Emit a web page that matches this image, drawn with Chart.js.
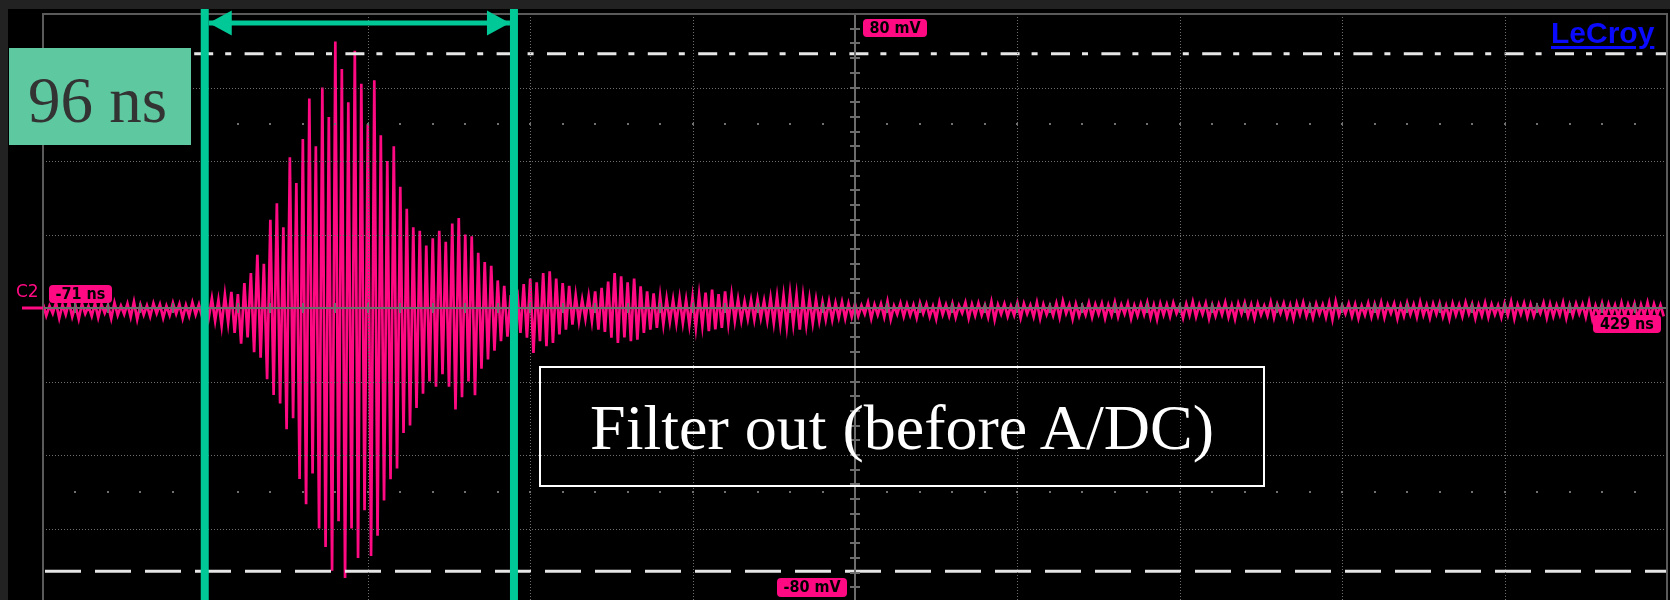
<!DOCTYPE html>
<html>
<head>
<meta charset="utf-8">
<title>Filter out (before A/DC)</title>
<script src="https://cdn.jsdelivr.net/npm/chart.js@4.4.0/dist/chart.umd.min.js"></script>
<style>
  html, body { margin: 0; padding: 0; background: #222; overflow: hidden; }
  #wrap { position: relative; width: 1670px; height: 600px; overflow: hidden; }
  #scope { position: absolute; left: 0; top: 0; }
  .lbl { position: absolute; white-space: nowrap; }
  .tag {
    position: absolute; background-color: #ff0a82; border-radius: 4px;
    font-family: "DejaVu Sans Condensed", "DejaVu Sans", sans-serif; font-size: 16px; font-weight: bold;
    line-height: 18px; text-align: center; color: #000000 !important;
  }
</style>
</head>
<body>
<div id="wrap">
  <canvas id="scope" width="1670" height="610"></canvas>

  <div class="lbl" style="left:9px;top:48px;width:182px;height:97px;background:#5ec9a0;"></div>
  <div class="lbl" id="spanText" style="left:28px;top:68px;font:65px 'Liberation Serif',serif;line-height:64px;color:#333;"></div>

  <div class="lbl" style="left:539px;top:366px;width:726px;height:121px;border:2px solid #fff;box-sizing:border-box;"></div>
  <div class="lbl" id="noteText" style="left:539px;top:396px;width:726px;text-align:center;font:64px 'Liberation Serif',serif;line-height:64px;color:#fff;"></div>

  <div class="lbl" style="left:1551px;top:17px;font:bold 30px 'Liberation Sans',Arial,sans-serif;line-height:32px;color:#0a0aff;text-decoration:underline;text-decoration-thickness:3px;text-underline-offset:3px;">LeCroy</div>

  <div class="lbl" id="chanText" style="left:16px;top:281px;font:17px 'DejaVu Sans',sans-serif;color:#ff0a82;"></div>
  <div class="tag" id="topTag" style="left:863px;top:19px;width:64px;color:#000;"></div>
  <div class="tag" id="botTag" style="left:777px;top:578px;width:70px;height:19px;color:#000;"></div>
  <div class="tag" id="leftTag" style="left:49px;top:285px;width:63px;color:#000;"></div>
  <div class="tag" id="rightTag" style="left:1593px;top:315px;width:68px;color:#000;"></div>
</div>

<script>
// time axis (ns) and voltage axis (mV) of the scope screen, 10 x 8 divisions
var timeTicksNs = [-71, -21, 29, 79, 129, 179, 229, 279, 329, 379, 429];
var voltTicksMv = [-80, -60, -40, -20, 0, 20, 40, 60, 80];

// the trace: one peak and one trough per 2 ns, samples 1 ns apart, starting at -71 ns
var sampleStartNs = -71;
var sampleStepNs = 1;
var peakMv = [
  // -71 .. -23 ns, baseline noise
  1.1, 0.6, 1.4, 0.9, 1.6, 0.7, 1.2, 0.5, 1.3, 1.0, 0.8, 1.5, 0.6, 1.2, 1.7, 0.9, 0.7, 1.3, 1.0, 0.6, 1.4, 1.1, 0.8, 1.5, 1.0,
  // -21 .. 177 ns, burst
  1.8, 2.6, 2.2, 3.6, 4.4, 3.8, 6.8, 9.5, 14.5, 12,
  24, 28.5, 22, 41, 34, 46, 57, 44, 60, 52,
  72.5, 65, 56, 70, 61, 50, 62, 47, 40, 44,
  33, 27, 22, 21, 17, 19, 21, 18, 23, 24.5,
  20, 19.5, 15, 12.5, 11.5, 7.5, 6, 3.5, 5, 6.5,
  8, 7, 9.5, 10, 8, 6.8, 6, 3.5, 2.3, 3.2,
  4.5, 5.5, 7.2, 9.5, 8.6, 7, 8, 5.9, 4.5, 4,
  3.2, 2.5, 2.3, 2.7, 2.2, 3, 3.6, 4.2, 5, 3.8,
  4.5, 3.6, 2.4, 1.8, 2.2, 2.4, 2, 2.8, 3.2, 3.4,
  4, 3.6, 3.2, 2.6, 2.3, 1.6, 1.8, 1.4, 1.6, 1.2,
  // 179 .. 427 ns, baseline noise
  1.2, 0.7, 1.5, 0.9, 1.1, 1.8, 0.6, 1.3, 1.0, 0.8,
  1.4, 1.1, 0.5, 1.6, 0.9, 1.2, 0.7, 1.5, 1.0, 1.3,
  0.8, 1.7, 0.9, 1.1, 0.6, 1.4, 1.2, 0.8, 1.5, 1.0,
  0.7, 1.3, 1.9, 0.9, 1.1, 0.6, 1.4, 1.0, 1.2, 0.8,
  1.6, 0.9, 1.3, 0.7, 1.1, 1.5, 0.8, 1.2, 1.0, 1.4,
  0.6, 1.1, 1.7, 0.9, 1.3, 0.8, 1.0, 1.5, 0.7, 1.2,
  1.4, 0.9, 1.1, 0.6, 1.6, 1.0, 1.3, 0.8, 1.2, 1.5,
  0.7, 1.1, 0.9, 1.4, 1.8, 0.8, 1.2, 1.0, 0.6, 1.3,
  1.1, 1.5, 0.9, 1.2, 0.7, 1.4, 1.0, 1.6, 0.8, 1.1,
  1.3, 0.6, 1.2, 0.9, 1.5, 1.1, 0.8, 1.4, 1.0, 0.7,
  1.2, 1.7, 0.9, 1.3, 1.0, 0.6, 1.4, 1.1, 0.8, 1.5,
  0.9, 1.2, 1.0, 1.6, 0.7, 1.3, 1.1, 0.8, 1.4, 1.0,
  1.2, 0.9, 1.5, 1.1, 0.8
];
var troughMv = [
  -2.1, -1.5, -2.8, -1.8, -2.4, -3.0, -1.6, -2.2, -2.6, -1.4, -2.9, -2.0, -1.7, -2.5, -3.1, -1.9, -2.3, -1.5, -2.7, -2.0, -1.6, -2.8, -2.2, -1.8, -2.5,
  -2.8, -3.5, -4.8, -4, -6.8, -9.7, -8, -12, -13.5, -19.4,
  -23.7, -26, -33, -30, -46.5, -53.4, -45, -60, -65, -71.5,
  -58, -73.5, -60, -68, -55, -67.5, -62, -52.4, -46.6, -43.7,
  -34, -32, -27.2, -23.3, -20, -21.4, -18, -21.4, -27.6, -24.3,
  -20, -23.7, -16.5, -14, -11.6, -9, -7.8, -5, -6.8, -8.1,
  -12.2, -9, -10.4, -9.5, -7.2, -5.9, -4.5, -3.6, -3, -3.6,
  -5.9, -6.5, -8.1, -9.5, -8, -9, -8.6, -6.8, -5.9, -5.4,
  -4.5, -3.8, -4.1, -4.1, -4.6, -5.4, -4.8, -6.3, -5.8, -5.4,
  -4.2, -3.6, -3.4, -3, -3.2, -2.8, -3.5, -4.1, -4.5, -5,
  -4.4, -5.9, -4.6, -4.1, -3.6, -3.2, -3.2, -2.6, -2.9, -2.4,
  -2.2, -1.6, -2.9, -1.9, -2.5, -3.1, -1.7, -2.3, -2.0, -2.7,
  -1.5, -2.4, -3.0, -1.8, -2.2, -2.6, -1.4, -2.8, -2.1, -1.9,
  -2.5, -3.2, -1.7, -2.3, -2.0, -2.7, -1.6, -2.4, -2.9, -1.8,
  -2.1, -2.6, -1.5, -3.0, -2.2, -1.9, -2.5, -1.7, -2.8, -2.0,
  -2.4, -1.6, -2.9, -2.1, -1.8, -2.6, -3.1, -1.9, -2.3, -1.5,
  -2.7, -2.0, -2.4, -1.7, -2.9, -2.2, -1.8, -2.5, -3.0, -1.6,
  -2.3, -2.8, -1.9, -2.1, -2.6, -1.5, -2.4, -2.9, -1.8, -2.2,
  -2.7, -1.7, -2.5, -3.1, -2.0, -1.6, -2.3, -2.8, -1.9, -2.4,
  -2.1, -2.6, -1.5, -2.9, -2.2, -1.8, -2.5, -2.0, -2.7, -1.7,
  -2.4, -3.0, -1.9, -2.3, -1.6, -2.8, -2.1, -2.5, -1.8, -2.6,
  -2.0, -2.9, -1.7, -2.4, -2.2, -1.5, -2.7, -2.3, -1.9, -2.8,
  -2.1, -1.6, -2.5, -3.0, -2.0, -2.4, -1.8, -2.6, -2.2, -1.7,
  -2.9, -2.1, -2.4, -1.8, -2.3
];

// white level lines and the two green time cursors
var levelMv = [69.2, -71.6];
var cursorNs = [-21.2, 74.0];

var channelName = "C2";
var spanLabel = "96 ns";
var noteLabel = "Filter out (before A/DC)";

document.addEventListener("DOMContentLoaded", function() {
  var pink = "#ff0a82";
  var green = "#00c896";

  var trace = [];
  for (var i = 0; i < peakMv.length; i++) {
    trace.push({x: sampleStartNs + 2 * i * sampleStepNs, y: peakMv[i]});
    trace.push({x: sampleStartNs + (2 * i + 1) * sampleStepNs, y: troughMv[i]});
  }
  var tMin = timeTicksNs[0], tMax = timeTicksNs[timeTicksNs.length - 1];
  var vMin = voltTicksMv[0], vMax = voltTicksMv[voltTicksMv.length - 1];

  // screen background, dotted grid, centre cross with minor ticks
  var scopeGrid = {
    id: "scopeGrid",
    beforeDraw: function(chart) {
      var ctx = chart.ctx;
      ctx.save();
      ctx.fillStyle = "#222";
      ctx.fillRect(0, 0, chart.width, chart.height);
      ctx.fillStyle = "#000";
      ctx.fillRect(8, 9, chart.width - 8, chart.height - 9);
      ctx.restore();
    },
    afterDatasetsDraw: function(chart) {
      var ctx = chart.ctx, a = chart.chartArea;
      var xs = chart.scales.x, ys = chart.scales.y;
      var midT = timeTicksNs[5], midV = 0;
      ctx.save();
      ctx.strokeStyle = "#6e6e6e";
      ctx.lineWidth = 1;
      ctx.setLineDash([1, 2]);
      timeTicksNs.forEach(function(t) {
        if (t === midT || t === tMin || t === tMax) return;
        var x = Math.round(xs.getPixelForValue(t)) + 0.5;
        ctx.beginPath(); ctx.moveTo(x, a.top); ctx.lineTo(x, a.bottom); ctx.stroke();
      });
      voltTicksMv.forEach(function(v) {
        if (v === midV || v === vMin || v === vMax) return;
        var y = Math.round(ys.getPixelForValue(v)) + 0.5;
        ctx.beginPath(); ctx.moveTo(a.left, y); ctx.lineTo(a.right, y); ctx.stroke();
      });
      ctx.setLineDash([]);

      // rows of dots half way between grid lines
      var step = (timeTicksNs[1] - timeTicksNs[0]) / 5;
      ctx.fillStyle = "#707070";
      [50, -50].forEach(function(v) {
        var y = Math.round(ys.getPixelForValue(v));
        for (var t = tMin + step; t < tMax; t += step) {
          var x = Math.round(xs.getPixelForValue(t));
          ctx.fillRect(x - 1, y - 1, 2, 2);
        }
      });

      // centre cross
      var cx = Math.round(xs.getPixelForValue(midT));
      var cy = Math.round(ys.getPixelForValue(midV));
      ctx.strokeStyle = "#6c6c6c";
      ctx.lineWidth = 2;
      ctx.beginPath();
      ctx.moveTo(a.left, cy); ctx.lineTo(a.right, cy);
      ctx.moveTo(cx, a.top); ctx.lineTo(cx, a.bottom);
      for (var t2 = tMin + step; t2 < tMax; t2 += step) {
        var tx = Math.round(xs.getPixelForValue(t2));
        ctx.moveTo(tx, cy - 5); ctx.lineTo(tx, cy + 5);
      }
      var vstep = (voltTicksMv[1] - voltTicksMv[0]) / 5;
      for (var v2 = vMin + vstep; v2 < vMax; v2 += vstep) {
        var ty = Math.round(ys.getPixelForValue(v2));
        ctx.moveTo(cx - 5, ty); ctx.lineTo(cx + 5, ty);
      }
      ctx.stroke();

      // screen frame
      ctx.strokeStyle = "#5a5a5a";
      ctx.strokeRect(a.left, a.top, a.right - a.left, a.bottom - a.top);

      // channel marker on the left edge
      ctx.strokeStyle = pink;
      ctx.lineWidth = 3;
      ctx.beginPath(); ctx.moveTo(22, cy); ctx.lineTo(a.left, cy); ctx.stroke();
      ctx.restore();
    },
    afterDraw: function(chart) {
      var ctx = chart.ctx, xs = chart.scales.x;
      var x1 = xs.getPixelForValue(cursorNs[0]);
      var x2 = xs.getPixelForValue(cursorNs[1]);
      ctx.save();
      ctx.fillStyle = green;
      ctx.fillRect(x1 - 4, 9, 8, chart.height);
      ctx.fillRect(x2 - 4, 9, 8, chart.height);
      // double arrow between the cursors
      var ay = 23;
      ctx.fillRect(x1 + 4, ay - 2.5, x2 - x1 - 8, 5);
      ctx.beginPath();
      ctx.moveTo(x1 + 4, ay); ctx.lineTo(x1 + 27, ay - 12.5); ctx.lineTo(x1 + 27, ay + 12.5); ctx.closePath();
      ctx.moveTo(x2 - 4, ay); ctx.lineTo(x2 - 27, ay - 12.5); ctx.lineTo(x2 - 27, ay + 12.5); ctx.closePath();
      ctx.fill();
      ctx.restore();
    }
  };

  var ctx = document.getElementById("scope").getContext("2d");
  new Chart(ctx, {
    type: "line",
    data: {
      datasets: [
        {
          label: "level high",
          data: [{x: tMin, y: levelMv[0]}, {x: tMax, y: levelMv[0]}],
          borderColor: "#e6e6e6",
          borderWidth: 3,
          borderDash: [19, 12, 6, 13.4],
          pointRadius: 0
        },
        {
          label: "level low",
          data: [{x: tMin, y: levelMv[1]}, {x: tMax, y: levelMv[1]}],
          borderColor: "#e6e6e6",
          borderWidth: 3,
          borderDash: [36, 14],
          borderDashOffset: -2,
          pointRadius: 0
        },
        {
          label: channelName,
          data: trace,
          borderColor: pink,
          borderWidth: 2.7,
          pointRadius: 0,
          tension: 0
        }
      ]
    },
    options: {
      responsive: false,
      devicePixelRatio: 1,
      animation: false,
      layout: { padding: { left: 43, top: 14, right: 3, bottom: 8 } },
      plugins: { legend: { display: false }, tooltip: { enabled: false } },
      scales: {
        x: { type: "linear", min: tMin, max: tMax, display: false },
        y: { type: "linear", min: vMin, max: vMax, display: false }
      }
    },
    plugins: [scopeGrid]
  });

  document.getElementById("spanText").textContent = spanLabel;
  document.getElementById("noteText").textContent = noteLabel;
  document.getElementById("chanText").textContent = channelName;
  document.getElementById("topTag").textContent = vMax + " mV";
  document.getElementById("botTag").textContent = vMin + " mV";
  document.getElementById("leftTag").textContent = tMin + " ns";
  document.getElementById("rightTag").textContent = tMax + " ns";
});
</script>
</body>
</html>
